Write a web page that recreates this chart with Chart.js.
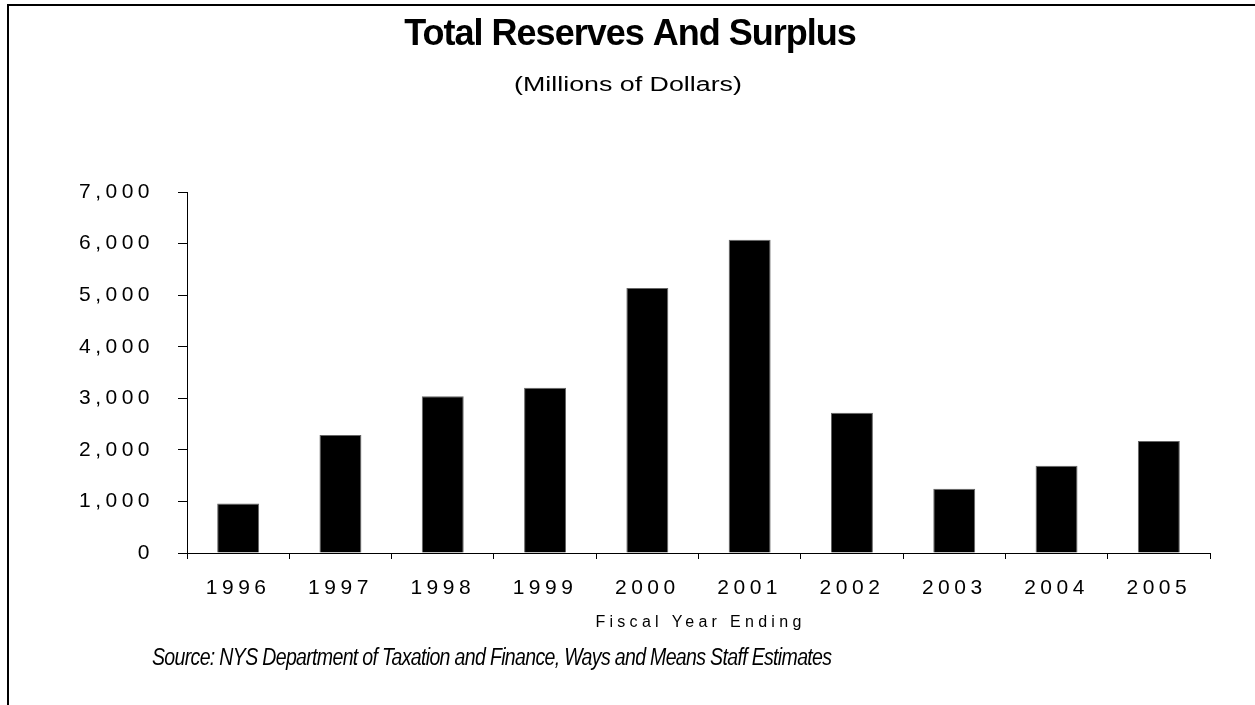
<!DOCTYPE html>
<html>
<head>
<meta charset="utf-8">
<title>Total Reserves And Surplus</title>
<script src="https://cdn.jsdelivr.net/npm/chart.js@4.4.1/dist/chart.umd.min.js"></script>
<style>
  html, body { margin: 0; padding: 0; background: #fff; }
  #wrap { position: relative; width: 1255px; height: 705px; overflow: hidden; }
  #frame { position: absolute; left: 7px; top: 4px; right: -10px; bottom: -10px;
           border-top: 2px solid #000; border-left: 2px solid #000; }
  #chart { position: absolute; left: 0; top: 0; }
</style>
</head>
<body>
<div id="wrap">
  <div id="frame"></div>
  <canvas id="chart" width="1255" height="705"></canvas>
</div>
<script>
const years = ['1996', '1997', '1998', '1999', '2000', '2001', '2002', '2003', '2004', '2005'];
const reserves = [960, 2290, 3040, 3205, 5140, 6075, 2720, 1245, 1690, 2170];
const yMin = 0;
const yMax = 7000;
const yStep = 1000;

const titleText = 'Total Reserves And Surplus';
const subtitleText = '(Millions of Dollars)';
const axisTitleText = 'Fiscal Year Ending';
const sourceText = 'Source: NYS Department of Taxation and Finance, Ways and Means Staff Estimates';

const FONT = '"Liberation Sans", Arial, sans-serif';
const tickSpacing = { x: '4.5px', y: '4.5px' };

// text with optional horizontal squeeze/stretch
function drawText(ctx, text, x, y, font, spacing, align, scaleX) {
    ctx.save();
    ctx.font = font;
    ctx.letterSpacing = spacing;
    ctx.fillStyle = '#000';
    ctx.textAlign = align;
    ctx.textBaseline = 'alphabetic';
    ctx.translate(x, y);
    ctx.scale(scaleX || 1, 1);
    ctx.fillText(text, 0, 0);
    ctx.restore();
}

const chartText = {
    id: 'chartText',
    beforeDraw(chart) {
        // spaced-out tick labels, per axis
        Object.keys(tickSpacing).forEach(id => {
            const scale = chart.scales[id];
            if (!scale || scale._spaced) return;
            const drawLabels = scale.drawLabels.bind(scale);
            scale.drawLabels = area => {
                chart.ctx.letterSpacing = tickSpacing[id];
                drawLabels(area);
                chart.ctx.letterSpacing = '0px';
            };
            scale._spaced = true;
        });
    },
    afterDraw(chart) {
        const ctx = chart.ctx;
        const area = chart.chartArea;
        drawText(ctx, titleText, 630, 45, 'bold 36px ' + FONT, '-1px', 'center');
        drawText(ctx, subtitleText, 628, 91, '20px ' + FONT, '0px', 'center', 1.34);
        drawText(ctx, axisTitleText, (area.left + area.right) / 2 + 2, 627, '16px ' + FONT, '4.3px', 'center');
        drawText(ctx, sourceText, 152, 665, 'italic 23px ' + FONT, '-0.8px', 'left', 0.85);
    }
};

const ctx = document.getElementById('chart').getContext('2d');
const chart = new Chart(ctx, {
    type: 'bar',
    data: {
        labels: years,
        datasets: [{
            data: reserves,
            backgroundColor: '#000',
            borderColor: '#666',
            borderWidth: 1,
            barPercentage: 0.41,
            categoryPercentage: 1
        }]
    },
    options: {
        responsive: false,
        animation: false,
        layout: { padding: { top: 192, right: 45, bottom: 0, left: 0 } },
        plugins: {
            legend: { display: false },
            title: { display: false },
            tooltip: { enabled: false }
        },
        scales: {
            x: {
                offset: true,
                grid: { offset: true, drawOnChartArea: false, drawTicks: true, tickLength: 6, color: '#000' },
                border: { color: '#000', width: 1 },
                ticks: { color: '#000', font: { family: FONT, size: 21 }, padding: 17, maxRotation: 0 },
                afterFit(scale) { scale.height = 152; }
            },
            y: {
                min: yMin,
                max: yMax,
                grid: { drawOnChartArea: false, drawTicks: true, tickLength: 9, color: '#000' },
                border: { color: '#000', width: 1 },
                ticks: {
                    stepSize: yStep,
                    color: '#000',
                    font: { family: FONT, size: 21 },
                    padding: 24,
                    callback: v => v.toLocaleString('en-US')
                },
                afterFit(scale) { scale.width = 187; }
            }
        }
    },
    plugins: [chartText]
});
</script>
</body>
</html>
